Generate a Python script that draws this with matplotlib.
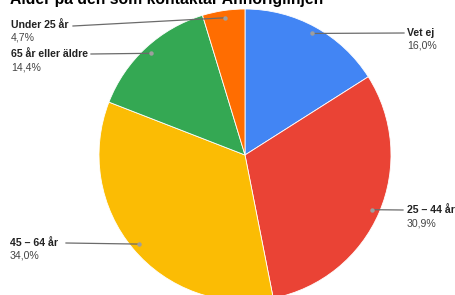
import matplotlib.pyplot as plt
import numpy as np

plt.rcParams['font.family'] = ['Liberation Sans', 'DejaVu Sans']

title = "Ålder på den som kontaktar Anhöriglinjen"
labels = ["Vet ej", "25 – 44 år", "45 – 64 år", "65 år eller äldre", "Under 25 år"]
values = [16.0, 30.9, 34.0, 14.4, 4.7]
colors = ["#4285F4", "#EA4335", "#FBBC04", "#34A853", "#FF6D01"]

# label text anchor (x, y) in pixel coords (y up), leader start x
label_pos = [(407, 262), (407, 85), (10, 52), (11, 241), (11, 270)]
line_x = [404, 403, 66, 91, 73]
line_y_off = [0, 0, 0, 0, -1]

W, H = 456, 295
fig = plt.figure(figsize=(W / 100, H / 100), dpi=100)
ax = fig.add_axes([0, 0, 1, 1])

cx, cy, R = 245, 140, 146
wedges, _ = ax.pie(values, colors=colors, startangle=90, counterclock=False,
                   center=(cx, cy), radius=R, frame=True,
                   wedgeprops=dict(linewidth=0.6, edgecolor="white"))

for w, lab, v, (tx, ty), lx, dy in zip(wedges, labels, values, label_pos, line_x, line_y_off):
    ang = np.deg2rad((w.theta1 + w.theta2) / 2)
    px = cx + 0.95 * R * np.cos(ang)
    py = cy + 0.95 * R * np.sin(ang)
    ax.plot([lx, px], [ty + dy, py], color="#6b6b6b", lw=0.9, zorder=3)
    ax.plot(px, py, "o", color="#9e9e9e", ms=3.2, mec="none", zorder=4)
    ax.text(tx, ty, lab, fontsize=7.6, fontweight="bold", color="#222222",
            ha="left", va="center")
    ax.text(tx, ty - 13, f"{v:.1f}%".replace(".", ","), fontsize=7.6,
            color="#444444", ha="left", va="center")

ax.text(10, 291, title, fontsize=11.3, fontweight="bold", color="#000000",
        ha="left", va="baseline")

ax.set_xlim(0, W)
ax.set_ylim(0, H)
ax.set_aspect("auto")
ax.axis("off")

fig.savefig("out.png", dpi=100)
